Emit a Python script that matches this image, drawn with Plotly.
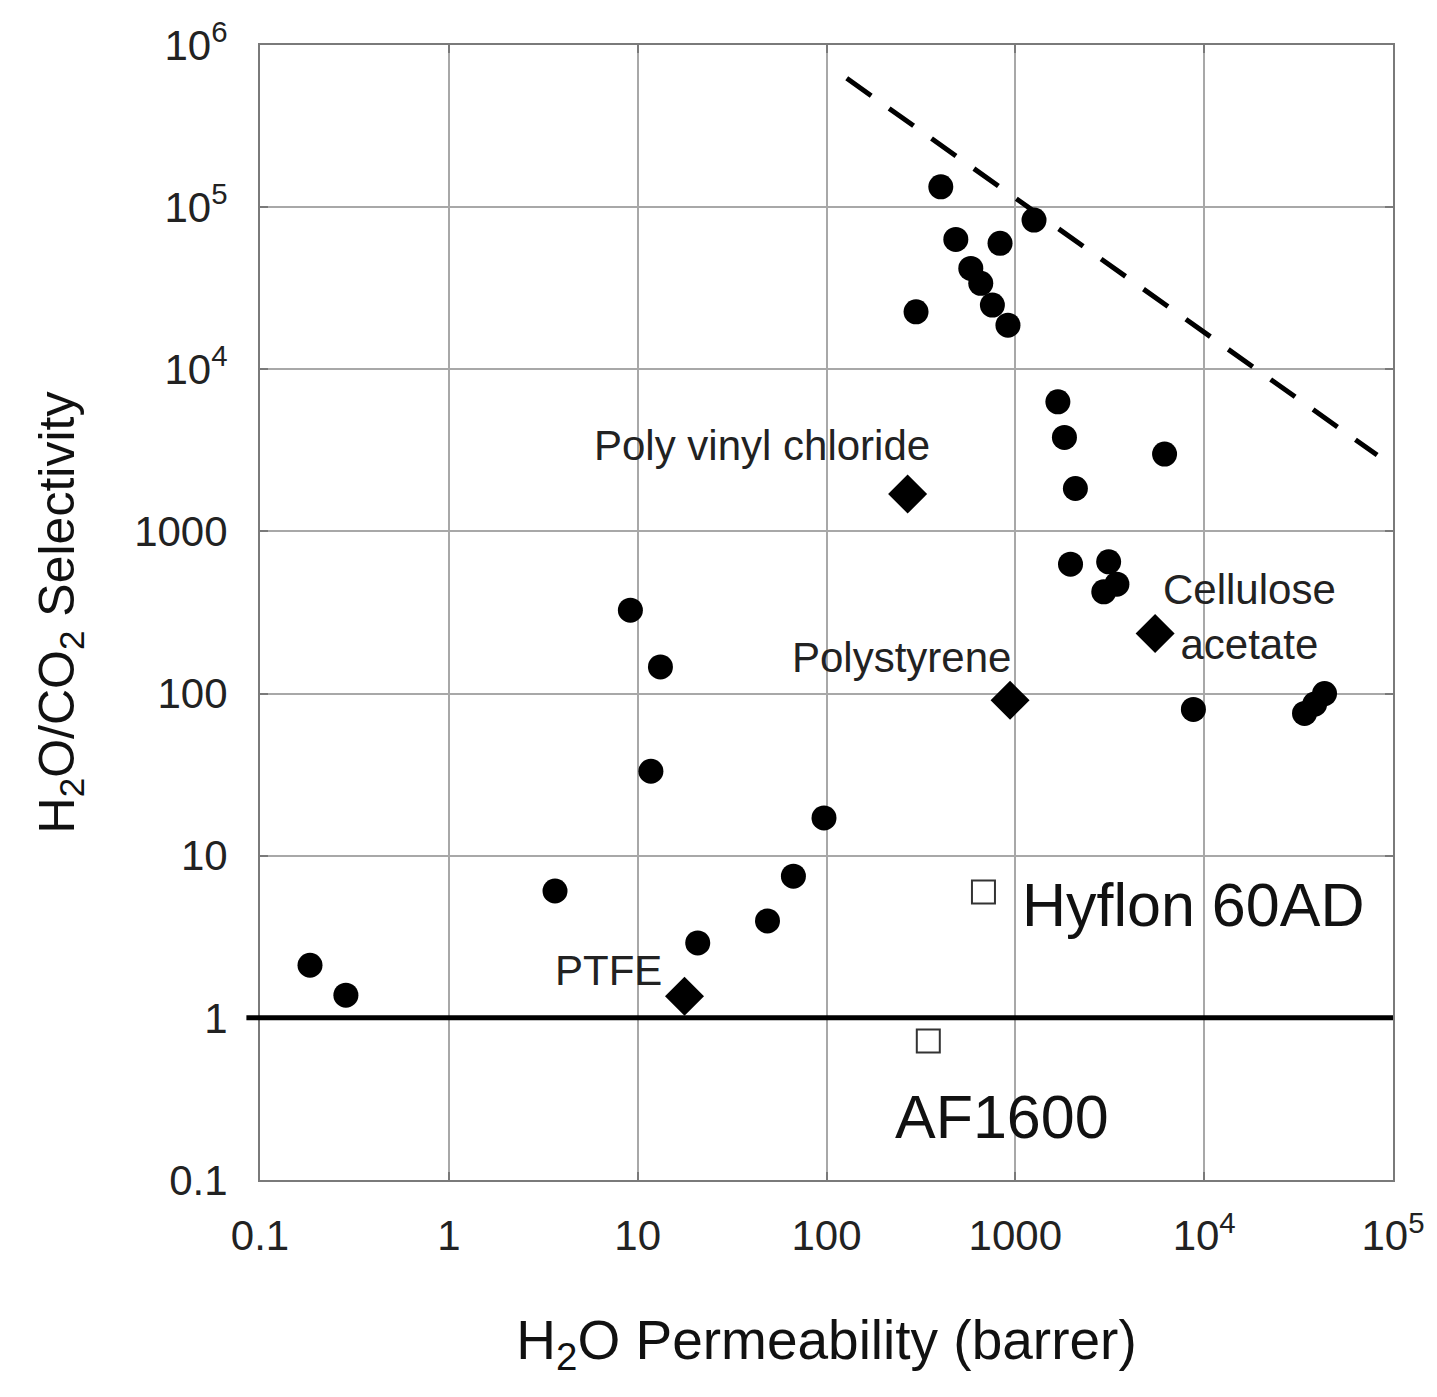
import plotly.graph_objects as go

# ---- data ----
circle_perm = [0.184, 0.285, 3.65, 9.15, 13.2, 11.75, 20.8, 48.7, 66.8, 97,
               298, 403, 484, 581, 656, 756, 830, 914, 1256,
               1680, 1820, 2080, 1960, 3120, 2940, 3450, 6170, 8770,
               34000, 38500, 43400]
circle_sel = [2.11, 1.38, 6.06, 327, 146, 33.2, 2.90, 3.96, 7.48, 17.1,
              22600, 133500, 63200, 41900, 33900, 24900, 59800, 18700, 83200,
              6300, 3800, 1840, 628, 649, 424, 473, 3000, 79.8,
              75.4, 86.1, 100]

diamond_names = ["PTFE", "Poly vinyl chloride", "Polystyrene", "Cellulose<br>acetate"]
diamond_perm = [17.7, 269, 938, 5500]
diamond_sel = [1.36, 1700, 91, 235]

square_names = ["Hyflon 60AD", "AF1600"]
square_perm = [678, 346]
square_sel = [5.98, 0.72]

bound_perm = [128, 82400]
bound_sel = [623000, 2957]

parity_sel = 1

x_tickvals = [0.1, 1, 10, 100, 1000, 1e4, 1e5]
x_ticktext = ["0.1", "1", "10", "100", "1000", "10<sup>4</sup>", "10<sup>5</sup>"]
y_tickvals = [0.1, 1, 10, 100, 1000, 1e4, 1e5, 1e6]
y_ticktext = ["0.1", "1", "10", "100", "1000", "10<sup>4</sup>", "10<sup>5</sup>", "10<sup>6</sup>"]

# label placement (log10 coordinates) - layout only
diamond_label_pos = [(0.847, 0.294), (1.660, 3.532), (2.398, 2.225), (4.240, 2.471)]
square_label_pos = [(3.940, 0.695), (2.931, -0.613)]

FONT = "Liberation Sans, Arial, sans-serif"

fig = go.Figure()

fig.add_trace(go.Scatter(x=bound_perm, y=bound_sel, mode="lines",
                         line=dict(color="black", width=5, dash="30px,22px"),
                         showlegend=False, hoverinfo="skip"))

fig.add_trace(go.Scatter(x=circle_perm, y=circle_sel, mode="markers",
                         marker=dict(symbol="circle", size=25, color="black",
                                     line=dict(width=0)),
                         showlegend=False))

fig.add_trace(go.Scatter(x=diamond_perm, y=diamond_sel, mode="markers",
                         marker=dict(symbol="diamond", size=30, color="black",
                                     line=dict(width=0)),
                         showlegend=False))

fig.add_trace(go.Scatter(x=square_perm, y=square_sel, mode="markers",
                         marker=dict(symbol="square-open", size=23, color="#333333",
                                     line=dict(width=2)),
                         showlegend=False))

fig.add_shape(type="line", xref="paper", yref="y", x0=-0.012, x1=1.0,
              y0=parity_sel, y1=parity_sel, line=dict(color="black", width=5),
              layer="above")

for name, (lx, ly) in zip(diamond_names, diamond_label_pos):
    fig.add_annotation(x=lx, y=ly, xref="x", yref="y", text=name, showarrow=False,
                       font=dict(family=FONT, size=42, color="#222222"),
                       xanchor="center", yanchor="middle", align="center")

for name, (lx, ly) in zip(square_names, square_label_pos):
    fig.add_annotation(x=lx, y=ly, xref="x", yref="y", text=name, showarrow=False,
                       font=dict(family=FONT, size=61, color="#111111"),
                       xanchor="center", yanchor="middle")

axis_common = dict(
    type="log", showgrid=True, gridcolor="#a8a8a8", gridwidth=1.5,
    showline=True, linecolor="#7a7a7a", linewidth=2, mirror="ticks",
    ticks="inside", ticklen=8, tickcolor="#7a7a7a", tickwidth=2,
    tickmode="array", zeroline=False,
    tickfont=dict(family=FONT, size=42, color="#222222"),
)

fig.update_xaxes(**axis_common, range=[-1, 5], tickvals=x_tickvals, ticktext=x_ticktext,
                 ticklabelstandoff=18,
                 title=dict(text="H<sub>2</sub>O Permeability (barrer)",
                            font=dict(family=FONT, size=55, color="#111111"),
                            standoff=62))
fig.update_yaxes(**axis_common, range=[-1, 6], tickvals=y_tickvals, ticktext=y_ticktext,
                 ticklabelstandoff=22,
                 title=dict(text="H<sub>2</sub>O/CO<sub>2</sub> Selectivity",
                            font=dict(family=FONT, size=50, color="#111111"),
                            standoff=44))

fig.update_layout(
    width=1437, height=1397,
    margin=dict(l=260, r=40, t=45, b=217),
    paper_bgcolor="white", plot_bgcolor="white",
    showlegend=False,
)

fig.write_html("out.html")
